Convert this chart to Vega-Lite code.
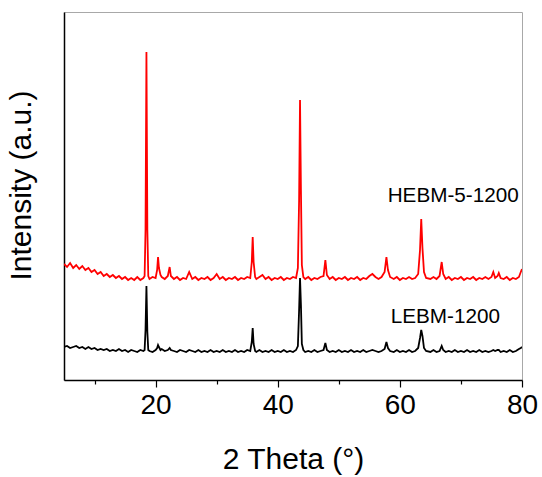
{
  "$schema": "https://vega.github.io/schema/vega-lite/v6.json",
  "width": 458,
  "height": 368,
  "autosize": "none",
  "padding": {"left": 64, "top": 12, "right": 20, "bottom": 97},
  "background": "white",
  "config": {
    "font": "Liberation Sans",
    "view": {"stroke": "#a8a8a8", "strokeWidth": 1}
  },
  "layer": [
    {
      "data": {
        "values": [
          {"x":5.0,"r":116,"b":33},{"x":5.5,"r":113,"b":34},{"x":6.0,"r":117,"b":32},{"x":6.5,"r":112,"b":33},
          {"x":7.0,"r":115,"b":34},{"x":7.5,"r":111,"b":32},{"x":8.0,"r":114,"b":33},{"x":8.5,"r":110,"b":31},
          {"x":9.0,"r":112,"b":33},{"x":9.5,"r":108,"b":31},{"x":10.0,"r":110,"b":32},{"x":10.5,"r":106,"b":30},
          {"x":11.0,"r":108,"b":31},{"x":11.5,"r":104,"b":30},{"x":12.0,"r":106,"b":31},{"x":12.5,"r":103,"b":29},
          {"x":13.0,"r":105,"b":30},{"x":13.5,"r":102,"b":29},{"x":14.0,"r":104,"b":31},{"x":14.5,"r":101,"b":29},
          {"x":15.0,"r":103,"b":30},{"x":15.5,"r":100,"b":28},{"x":16.0,"r":102,"b":30},{"x":16.5,"r":100,"b":29},
          {"x":17.0,"r":103,"b":28},{"x":17.5,"r":100,"b":30},{"x":18.0,"r":102,"b":29},{"x":18.2,"r":104,"b":30},
          {"x":18.35,"r":150,"b":50},{"x":18.5,"r":328,"b":94},{"x":18.65,"r":150,"b":48},{"x":18.8,"r":104,"b":30},
          {"x":19.0,"r":101,"b":29},{"x":19.5,"r":103,"b":28},{"x":20.0,"r":102,"b":30},{"x":20.25,"r":110,"b":32},
          {"x":20.4,"r":123,"b":35},{"x":20.55,"r":112,"b":33},{"x":20.8,"r":105,"b":30},{"x":21.0,"r":103,"b":31},
          {"x":21.5,"r":101,"b":29},{"x":22.0,"r":104,"b":30},{"x":22.3,"r":113,"b":32},{"x":22.5,"r":104,"b":30},
          {"x":23.0,"r":101,"b":29},{"x":23.5,"r":103,"b":28},{"x":24.0,"r":100,"b":30},{"x":24.5,"r":102,"b":29},
          {"x":25.0,"r":101,"b":28},{"x":25.5,"r":108,"b":30},{"x":26.0,"r":101,"b":29},{"x":26.5,"r":103,"b":28},
          {"x":27.0,"r":100,"b":30},{"x":27.5,"r":102,"b":28},{"x":28.0,"r":101,"b":29},{"x":28.5,"r":103,"b":28},
          {"x":29.0,"r":100,"b":30},{"x":29.5,"r":102,"b":28},{"x":30.0,"r":106,"b":29},{"x":30.5,"r":101,"b":28},
          {"x":31.0,"r":103,"b":30},{"x":31.5,"r":100,"b":28},{"x":32.0,"r":102,"b":29},{"x":32.5,"r":101,"b":28},
          {"x":33.0,"r":103,"b":30},{"x":33.5,"r":100,"b":28},{"x":34.0,"r":102,"b":29},{"x":34.5,"r":101,"b":28},
          {"x":35.0,"r":103,"b":30},{"x":35.5,"r":102,"b":29},{"x":35.75,"r":118,"b":38},{"x":35.9,"r":143,"b":52},
          {"x":36.05,"r":118,"b":36},{"x":36.3,"r":103,"b":29},{"x":36.5,"r":101,"b":28},{"x":37.0,"r":103,"b":30},
          {"x":37.5,"r":105,"b":28},{"x":38.0,"r":101,"b":29},{"x":38.5,"r":103,"b":28},{"x":39.0,"r":100,"b":30},
          {"x":39.5,"r":102,"b":28},{"x":40.0,"r":101,"b":29},{"x":40.5,"r":103,"b":28},{"x":41.0,"r":100,"b":30},
          {"x":41.5,"r":102,"b":28},{"x":42.0,"r":101,"b":29},{"x":42.5,"r":103,"b":28},{"x":43.0,"r":102,"b":30},
          {"x":43.3,"r":112,"b":34},{"x":43.5,"r":180,"b":70},{"x":43.65,"r":280,"b":102},{"x":43.8,"r":190,"b":75},
          {"x":43.95,"r":115,"b":36},{"x":44.2,"r":103,"b":30},{"x":44.5,"r":101,"b":28},{"x":45.0,"r":103,"b":29},
          {"x":45.5,"r":100,"b":28},{"x":46.0,"r":102,"b":30},{"x":46.5,"r":101,"b":28},{"x":47.0,"r":103,"b":29},
          {"x":47.5,"r":104,"b":30},{"x":47.8,"r":120,"b":37},{"x":48.05,"r":105,"b":30},{"x":48.5,"r":101,"b":28},
          {"x":49.0,"r":103,"b":29},{"x":49.5,"r":100,"b":28},{"x":50.0,"r":102,"b":30},{"x":50.5,"r":101,"b":28},
          {"x":51.0,"r":103,"b":29},{"x":51.5,"r":100,"b":28},{"x":52.0,"r":102,"b":30},{"x":52.5,"r":101,"b":28},
          {"x":53.0,"r":103,"b":29},{"x":53.5,"r":100,"b":28},{"x":54.0,"r":102,"b":30},{"x":54.5,"r":101,"b":28},
          {"x":55.0,"r":104,"b":29},{"x":55.5,"r":106,"b":30},{"x":56.0,"r":103,"b":29},{"x":56.5,"r":101,"b":28},
          {"x":57.0,"r":103,"b":29},{"x":57.5,"r":108,"b":31},{"x":57.8,"r":123,"b":38},{"x":58.05,"r":110,"b":32},
          {"x":58.4,"r":103,"b":29},{"x":59.0,"r":101,"b":28},{"x":59.5,"r":103,"b":30},{"x":60.0,"r":100,"b":28},
          {"x":60.5,"r":102,"b":29},{"x":61.0,"r":101,"b":28},{"x":61.5,"r":103,"b":30},{"x":62.0,"r":101,"b":28},
          {"x":62.5,"r":102,"b":29},{"x":63.0,"r":106,"b":32},{"x":63.3,"r":130,"b":42},{"x":63.5,"r":161,"b":50},
          {"x":63.7,"r":132,"b":44},{"x":63.95,"r":108,"b":32},{"x":64.3,"r":102,"b":29},{"x":65.0,"r":101,"b":28},
          {"x":65.5,"r":103,"b":30},{"x":66.0,"r":101,"b":28},{"x":66.5,"r":104,"b":29},{"x":66.85,"r":118,"b":34},
          {"x":67.1,"r":106,"b":30},{"x":67.5,"r":101,"b":28},{"x":68.0,"r":103,"b":29},{"x":68.5,"r":100,"b":28},
          {"x":69.0,"r":102,"b":30},{"x":69.5,"r":101,"b":28},{"x":70.0,"r":103,"b":29},{"x":70.5,"r":100,"b":28},
          {"x":71.0,"r":102,"b":30},{"x":71.5,"r":101,"b":28},{"x":72.0,"r":103,"b":29},{"x":72.5,"r":100,"b":28},
          {"x":73.0,"r":102,"b":30},{"x":73.5,"r":101,"b":28},{"x":74.0,"r":103,"b":29},{"x":74.5,"r":101,"b":28},
          {"x":75.0,"r":103,"b":29},{"x":75.3,"r":108,"b":30},{"x":75.6,"r":102,"b":29},{"x":76.0,"r":104,"b":30},
          {"x":76.2,"r":107,"b":30},{"x":76.5,"r":102,"b":28},{"x":77.0,"r":101,"b":29},{"x":77.5,"r":103,"b":28},
          {"x":78.0,"r":100,"b":30},{"x":78.5,"r":102,"b":28},{"x":79.0,"r":101,"b":29},{"x":79.5,"r":103,"b":31},
          {"x":79.8,"r":108,"b":32},{"x":80.0,"r":111,"b":33}
        ]
      },
      "transform": [{"fold": ["r", "b"], "as": ["series", "intensity"]}],
      "mark": {"type": "line", "strokeWidth": 1.8, "clip": true},
      "encoding": {
        "x": {
          "field": "x", "type": "quantitative",
          "scale": {"domain": [5, 80], "nice": false, "zero": false},
          "axis": {
            "title": "2 Theta (°)",
            "values": [10, 20, 30, 40, 50, 60, 70, 80],
            "labelExpr": "datum.value % 20 === 0 ? datum.label : ''",
            "tickSize": {"condition": {"test": "datum.value % 20 === 0", "value": 7}, "value": 4},
            "tickColor": "black",
            "tickWidth": 1.2,
            "domainColor": "black",
            "domainWidth": 1.5,
            "grid": false,
            "labelFontSize": 28,
            "labelColor": "black",
            "labelPadding": 4,
            "labelFlush": false,
            "titleFontSize": 30,
            "titleFontWeight": "normal",
            "titleColor": "black",
            "titlePadding": 25
          }
        },
        "y": {
          "field": "intensity", "type": "quantitative",
          "scale": {"domain": [0, 368], "nice": false, "zero": false},
          "axis": {
            "title": "Intensity (a.u.)",
            "ticks": false,
            "labels": false,
            "grid": false,
            "domainColor": "black",
            "domainWidth": 1.5,
            "titleFontSize": 30,
            "titleFontWeight": "normal",
            "titleColor": "black",
            "titlePadding": 28,
            "titleY": 173
          }
        },
        "color": {
          "field": "series", "type": "nominal",
          "scale": {"domain": ["r", "b"], "range": ["#ff0000", "#000000"]},
          "legend": null
        }
      }
    },
    {
      "data": {
        "values": [
          {"x": 58.0, "y": 184, "label": "HEBM-5-1200"},
          {"x": 58.5, "y": 63, "label": "LEBM-1200"}
        ]
      },
      "mark": {"type": "text", "align": "left", "baseline": "middle", "fontSize": 20.7, "color": "black"},
      "encoding": {
        "x": {"field": "x", "type": "quantitative"},
        "y": {"field": "y", "type": "quantitative"},
        "text": {"field": "label"}
      }
    }
  ]
}
